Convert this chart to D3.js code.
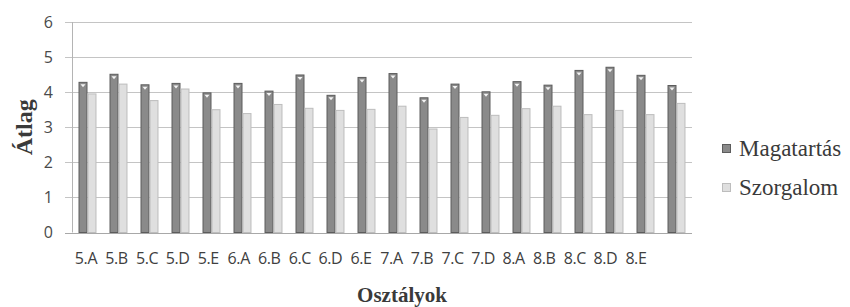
<!DOCTYPE html>
<html>
<head>
<meta charset="utf-8">
<script src="https://cdn.jsdelivr.net/npm/d3@7"></script>
<style>
	body { margin: 0; background: #fff; }
</style>
</head>
<body>
<div id="chart"></div>
<script>
// class averages per group (the 20th group has no label in the original)
var categories = ['5.A', '5.B', '5.C', '5.D', '5.E', '6.A', '6.B', '6.C', '6.D', '6.E',
	'7.A', '7.B', '7.C', '7.D', '8.A', '8.B', '8.C', '8.D', '8.E', ''];
var magatartas = [4.28, 4.51, 4.21, 4.25, 3.98, 4.25, 4.03, 4.49, 3.91, 4.42,
	4.53, 3.84, 4.23, 4.01, 4.30, 4.20, 4.62, 4.71, 4.48, 4.19];
var szorgalom = [3.95, 4.23, 3.76, 4.09, 3.50, 3.39, 3.65, 3.54, 3.48, 3.51,
	3.60, 2.95, 3.28, 3.34, 3.53, 3.60, 3.36, 3.48, 3.36, 3.68];
var series = ['Magatartás', 'Szorgalom'];
var yTicks = [0, 1, 2, 3, 4, 5, 6];

var width = 850;
var height = 307;
var plot = { left: 72, right: 692, top: 22, bottom: 232.5 };
var fills = ['#8a8a8a', '#dfdfdf'];
var strokes = ['#5c5c5c', '#bdbdbd'];

var svg = d3.select('#chart').append('svg')
	.attr('width', width)
	.attr('height', height);

var x = d3.scaleBand()
	.domain(d3.range(categories.length))
	.range([plot.left, plot.right])
	.paddingInner(0.42)
	.paddingOuter(0.21);

var inner = d3.scaleBand()
	.domain(series)
	.range([0, x.bandwidth()]);

var y = d3.scaleLinear()
	.domain([0, 6])
	.range([plot.bottom, plot.top]);

// gridlines
svg.append('g')
	.selectAll('line')
	.data(yTicks)
	.enter().append('line')
	.attr('x1', plot.left - 7)
	.attr('x2', plot.right)
	.attr('y1', function(d) { return Math.round(y(d)) + 0.5; })
	.attr('y2', function(d) { return Math.round(y(d)) + 0.5; })
	.attr('stroke', function(d) { return d === 0 ? '#a8a8a8' : '#c4c4c4'; })
	.attr('stroke-width', 1);

svg.append('line')
	.attr('x1', plot.left + 0.5)
	.attr('x2', plot.left + 0.5)
	.attr('y1', plot.top)
	.attr('y2', plot.bottom)
	.attr('stroke', '#b4b4b4');

// y tick labels
svg.append('g')
	.selectAll('text')
	.data(yTicks)
	.enter().append('text')
	.attr('x', 53)
	.attr('y', function(d) { return y(d); })
	.attr('dy', '0.36em')
	.attr('text-anchor', 'end')
	.attr('font-family', 'Open Sans, sans-serif')
	.attr('font-size', 16)
	.attr('fill', '#4a4a4a')
	.text(function(d) { return d; });

var rows = categories.map(function(c, i) {
	return { i: i, values: [magatartas[i], szorgalom[i]] };
});

var groups = svg.append('g')
	.selectAll('g')
	.data(rows)
	.enter().append('g')
	.attr('transform', function(d) { return 'translate(' + x(d.i) + ',0)'; });

groups.selectAll('rect')
	.data(function(d) { return d.values; })
	.enter().append('rect')
	.attr('x', function(d, j) { return inner(series[j]) + 0.5; })
	.attr('y', function(d) { return y(d); })
	.attr('width', inner.bandwidth() - 1)
	.attr('height', function(d) { return y(0) - y(d); })
	.attr('fill', function(d, j) { return fills[j]; })
	.attr('stroke', function(d, j) { return strokes[j]; })
	.attr('stroke-width', 1);

// little white notch on top of the dark bars
groups.append('path')
	.attr('d', function(d) {
		var cx = inner(series[0]) + inner.bandwidth() / 2;
		var top = y(d.values[0]) + 2;
		return 'M' + (cx - 2.5) + ',' + top + 'L' + (cx + 2.5) + ',' + top + 'L' + cx + ',' + (top + 3) + 'Z';
	})
	.attr('fill', '#f4f4f4');

// category labels
svg.append('g')
	.selectAll('text')
	.data(rows)
	.enter().append('text')
	.attr('x', function(d) { return x(d.i) + x.bandwidth() / 2 - 1.5 - d.i * 0.45; })
	.attr('y', 264)
	.attr('text-anchor', 'middle')
	.attr('font-family', 'Open Sans, sans-serif')
	.attr('font-size', 16)
	.attr('letter-spacing', -0.4)
	.attr('fill', '#404040')
	.text(function(d) { return categories[d.i]; });

// axis titles
svg.append('text')
	.attr('transform', 'translate(32,' + (plot.top + plot.bottom) / 2 + ') rotate(-90)')
	.attr('text-anchor', 'middle')
	.attr('font-family', 'Liberation Serif, serif')
	.attr('font-weight', 'bold')
	.attr('font-size', 24)
	.attr('fill', '#3a3a3a')
	.text('Átlag');

svg.append('text')
	.attr('x', 402)
	.attr('y', 302)
	.attr('text-anchor', 'middle')
	.attr('font-family', 'Liberation Serif, serif')
	.attr('font-weight', 'bold')
	.attr('font-size', 21)
	.attr('fill', '#3a3a3a')
	.text('Osztályok');

// legend
var legend = svg.append('g')
	.selectAll('g')
	.data(series)
	.enter().append('g')
	.attr('transform', function(d, j) { return 'translate(722,' + (149 + j * 39) + ')'; });

legend.append('rect')
	.attr('x', 0.5)
	.attr('y', -4.5)
	.attr('width', 8)
	.attr('height', 8)
	.attr('fill', function(d, j) { return fills[j]; })
	.attr('stroke', function(d, j) { return strokes[j]; });

legend.append('text')
	.attr('x', 17)
	.attr('y', 7)
	.attr('font-family', 'Liberation Serif, serif')
	.attr('font-size', 23)
	.attr('fill', '#3a3a3a')
	.text(function(d) { return d; });
</script>
</body>
</html>
